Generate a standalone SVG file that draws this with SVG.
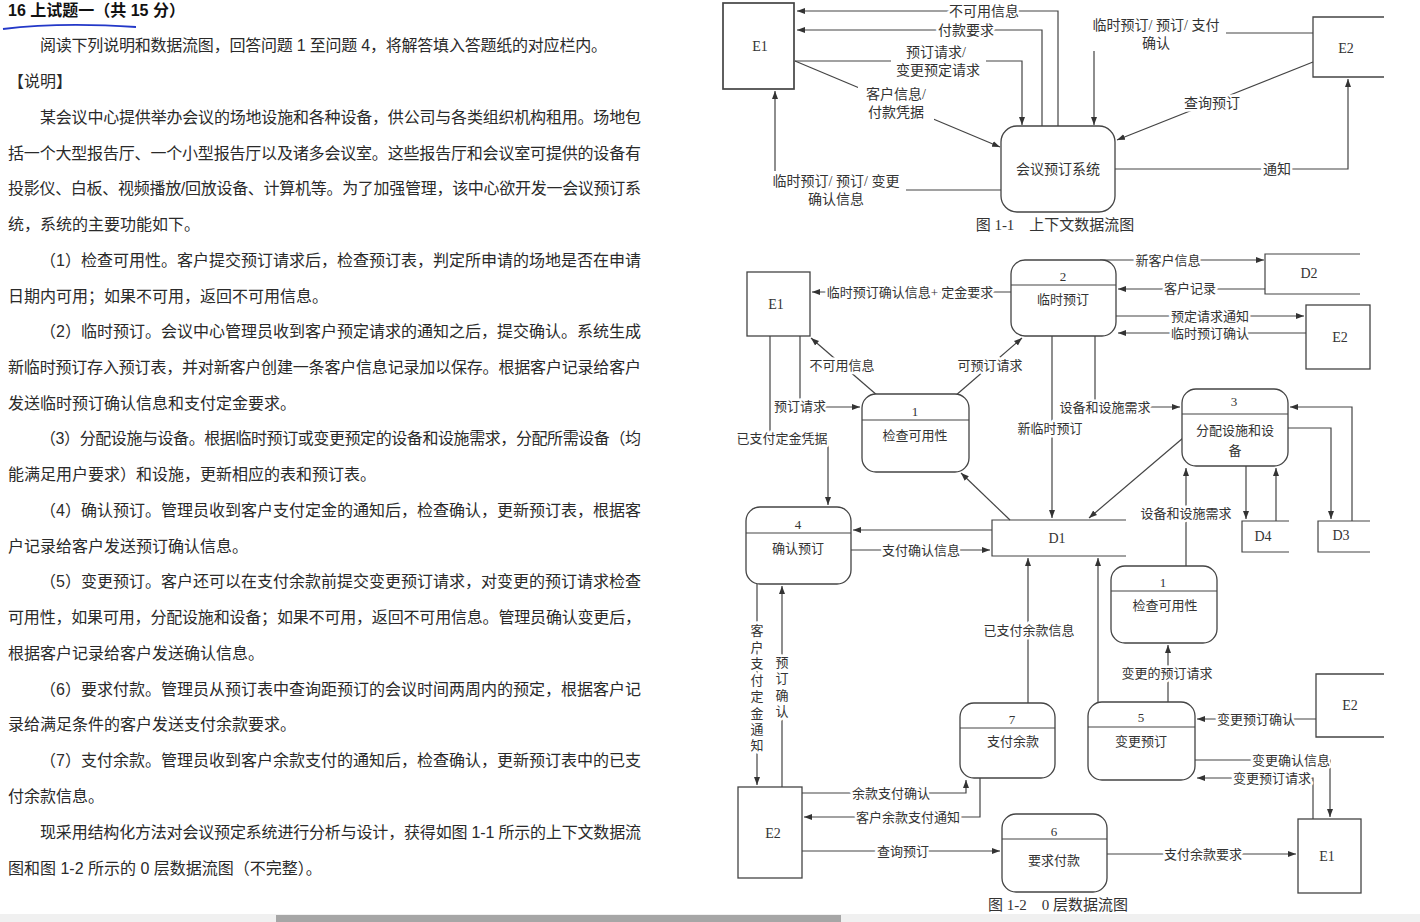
<svg xmlns="http://www.w3.org/2000/svg" width="1420" height="922" viewBox="0 0 1420 922">
<style>
.p{font-family:"Liberation Sans","Noto Sans CJK SC",sans-serif;font-size:16px;fill:#2a2a2a}
.ttl{font-family:"Liberation Sans","Noto Sans CJK SC",sans-serif;font-size:16px;font-weight:bold;fill:#111}
.l{font-family:"Liberation Serif","Noto Sans CJK SC",serif;font-size:13px;fill:#333;text-anchor:middle}
.l1{font-family:"Liberation Serif","Noto Sans CJK SC",serif;font-size:14px;fill:#333;text-anchor:middle}
.h{stroke:#fff;stroke-width:5px;paint-order:stroke;stroke-linejoin:round}
.nm{font-family:"Liberation Serif","Noto Sans CJK SC",serif;font-size:14px;fill:#333;text-anchor:middle}
.box{fill:#fff;stroke:#444;stroke-width:1.3}
.ln{fill:none;stroke:#444;stroke-width:1.2}
.f{fill:none;stroke:#444;stroke-width:1.2;marker-end:url(#a)}
.cap{font-family:"Liberation Serif","Noto Sans CJK SC",serif;font-size:15px;fill:#333;text-anchor:middle}
</style>
<defs>
<marker id="a" markerWidth="9" markerHeight="7" refX="8" refY="3.5" orient="auto" markerUnits="userSpaceOnUse">
<path d="M0,0.5 L8,3.5 L0,6.5 z" fill="#333"/>
</marker>
</defs>
<rect width="1420" height="922" fill="#fff"/>

<g id="text">
<text class="ttl" x="8" y="16">16 上试题一（共 15 分）</text>
<path d="M3,29 Q60,22 136,27" fill="none" stroke="#2338c8" stroke-width="1.8"/>
<text class="p" x="40" y="51" textLength="567" lengthAdjust="spacing">阅读下列说明和数据流图，回答问题 1 至问题 4，将解答填入答题纸的对应栏内。</text>
<text class="p" x="8" y="87">【说明】</text>
<text class="p" x="40" y="123" textLength="601" lengthAdjust="spacing">某会议中心提供举办会议的场地设施和各种设备，供公司与各类组织机构租用。场地包</text>
<text class="p" x="8" y="159" textLength="633" lengthAdjust="spacing">括一个大型报告厅、一个小型报告厅以及诸多会议室。这些报告厅和会议室可提供的设备有</text>
<text class="p" x="8" y="194" textLength="633" lengthAdjust="spacing">投影仪、白板、视频播放/回放设备、计算机等。为了加强管理，该中心欲开发一会议预订系</text>
<text class="p" x="8" y="230">统，系统的主要功能如下。</text>
<text class="p" x="40" y="266" textLength="601" lengthAdjust="spacing">（1）检查可用性。客户提交预订请求后，检查预订表，判定所申请的场地是否在申请</text>
<text class="p" x="8" y="302">日期内可用；如果不可用，返回不可用信息。</text>
<text class="p" x="40" y="337" textLength="601" lengthAdjust="spacing">（2）临时预订。会议中心管理员收到客户预定请求的通知之后，提交确认。系统生成</text>
<text class="p" x="8" y="373" textLength="633" lengthAdjust="spacing">新临时预订存入预订表，并对新客户创建一条客户信息记录加以保存。根据客户记录给客户</text>
<text class="p" x="8" y="409">发送临时预订确认信息和支付定金要求。</text>
<text class="p" x="40" y="444" textLength="601" lengthAdjust="spacing">（3）分配设施与设备。根据临时预订或变更预定的设备和设施需求，分配所需设备（均</text>
<text class="p" x="8" y="480">能满足用户要求）和设施，更新相应的表和预订表。</text>
<text class="p" x="40" y="516" textLength="601" lengthAdjust="spacing">（4）确认预订。管理员收到客户支付定金的通知后，检查确认，更新预订表，根据客</text>
<text class="p" x="8" y="552">户记录给客户发送预订确认信息。</text>
<text class="p" x="40" y="587" textLength="601" lengthAdjust="spacing">（5）变更预订。客户还可以在支付余款前提交变更预订请求，对变更的预订请求检查</text>
<text class="p" x="8" y="623" textLength="633" lengthAdjust="spacing">可用性，如果可用，分配设施和设备；如果不可用，返回不可用信息。管理员确认变更后，</text>
<text class="p" x="8" y="659">根据客户记录给客户发送确认信息。</text>
<text class="p" x="40" y="695" textLength="601" lengthAdjust="spacing">（6）要求付款。管理员从预订表中查询距预订的会议时间两周内的预定，根据客户记</text>
<text class="p" x="8" y="730">录给满足条件的客户发送支付余款要求。</text>
<text class="p" x="40" y="766" textLength="601" lengthAdjust="spacing">（7）支付余款。管理员收到客户余款支付的通知后，检查确认，更新预订表中的已支</text>
<text class="p" x="8" y="802">付余款信息。</text>
<text class="p" x="40" y="838" textLength="601" lengthAdjust="spacing">现采用结构化方法对会议预定系统进行分析与设计，获得如图 1-1 所示的上下文数据流</text>
<text class="p" x="8" y="874">图和图 1-2 所示的 0 层数据流图（不完整）。</text>
</g>

<!-- Figure 1-1 -->
<g id="fig11-connectors">
<path class="f" d="M1058,126 V11 H797"/>
<path class="f" d="M1042,126 V30 H797"/>
<path class="f" d="M795,61 H1022 V125"/>
<path class="f" d="M795,61 L1000,147"/>
<path class="f" d="M1001,190 H775 V91"/>
<path class="f" d="M1313,33 H1094 V125"/>
<path class="f" d="M1313,62 L1117,140"/>
<path class="f" d="M1115,169 H1348 V79"/>
<rect x="891" y="43" width="95" height="36" fill="#fff"/>
<rect x="858" y="86" width="76" height="35" fill="#fff"/>
<rect x="766" y="171" width="140" height="37" fill="#fff"/>
<rect x="1086" y="15" width="140" height="36" fill="#fff"/>
<text class="l1 h" x="984" y="16">不可用信息</text>
<text class="l1 h" x="966" y="35">付款要求</text>
<text class="l1" x="936" y="57">预订请求/</text>
<text class="l1" x="938" y="75">变更预定请求</text>
<text class="l1" x="896" y="99">客户信息/</text>
<text class="l1" x="896" y="117">付款凭据</text>
<text class="l1" x="836" y="186">临时预订/ 预订/ 变更</text>
<text class="l1" x="836" y="204">确认信息</text>
<text class="l1" x="1156" y="30">临时预订/ 预订/ 支付</text>
<text class="l1" x="1156" y="48">确认</text>
<text class="l1 h" x="1212" y="108">查询预订</text>
<text class="l1 h" x="1277" y="174">通知</text>
</g>
<g id="f11-E1">
<rect class="box" x="723" y="3" width="71" height="86" style="stroke-width:1.7"/>
<text class="nm" x="760" y="51">E1</text>
</g>
<g id="f11-E2">
<path class="ln" d="M1384,17 H1313 V77 H1384" style="stroke-width:1.3"/>
<text class="nm" x="1346" y="53">E2</text>
</g>
<g id="f11-P">
<rect class="box" x="1001" y="126" width="114" height="86" rx="16"/>
<text class="l1" x="1058" y="174">会议预订系统</text>
</g>
<text class="cap" x="1055" y="230">图 1-1　上下文数据流图</text>

<!-- Figure 1-2 -->
<g id="fig12-connectors">
<path class="f" d="M1011,292 H812"/>
<path class="f" d="M1100,260 H1264"/>
<path class="f" d="M1265,289 H1118"/>
<path class="f" d="M1116,316 H1304"/>
<path class="f" d="M1306,333 H1118"/>
<path class="f" d="M878,396 L811,338"/>
<path class="f" d="M955,396 L1022,338"/>
<path class="f" d="M800,336 V407 H860"/>
<path class="f" d="M770,336 V438 H828 V505"/>
<path class="f" d="M1052,336 V518"/>
<path class="f" d="M1095,336 V407 H1180"/>
<path class="f" d="M1183,438 L1089,518"/>
<path class="f" d="M1010,520 L961,473"/>
<path class="f" d="M992,530 H853"/>
<path class="f" d="M851,550 H990"/>
<path class="f" d="M1246,466 V519"/>
<path class="f" d="M1276,521 V468"/>
<path class="f" d="M1288,428 H1331 V519"/>
<path class="f" d="M1352,521 V407 H1290"/>
<path class="f" d="M1186,566 V468"/>
<path class="f" d="M1028,703 V558"/>
<path class="f" d="M1098,702 V558"/>
<path class="f" d="M1168,702 V645"/>
<path class="f" d="M1316,719 H1197"/>
<path class="f" d="M1195,760 H1330 V817"/>
<path class="f" d="M1313,819 V778 H1197"/>
<path class="f" d="M1107,854 H1296"/>
<path class="f" d="M802,851 H1000"/>
<path class="f" d="M802,793 H966 V780"/>
<path class="f" d="M980,778 V817 H804"/>
<path class="f" d="M757,584 V785"/>
<path class="f" d="M782,787 V586"/>
<text class="l h" x="910" y="297">临时预订确认信息+ 定金要求</text>
<text class="l h" x="1168" y="265">新客户信息</text>
<text class="l h" x="1190" y="293">客户记录</text>
<text class="l h" x="1210" y="321">预定请求通知</text>
<text class="l h" x="1210" y="338">临时预订确认</text>
<text class="l h" x="842" y="370">不可用信息</text>
<text class="l h" x="990" y="370">可预订请求</text>
<text class="l h" x="800" y="411">预订请求</text>
<text class="l h" x="782" y="443">已支付定金凭据</text>
<text class="l h" x="1050" y="433">新临时预订</text>
<text class="l h" x="1105" y="412">设备和设施需求</text>
<text class="l h" x="921" y="555">支付确认信息</text>
<text class="l h" x="1186" y="518">设备和设施需求</text>
<text class="l h" x="1029" y="635">已支付余款信息</text>
<text class="l h" x="1167" y="678">变更的预订请求</text>
<text class="l h" x="1256" y="724">变更预订确认</text>
<text class="l h" x="1291" y="765">变更确认信息</text>
<text class="l h" x="1272" y="783">变更预订请求</text>
<text class="l h" x="1203" y="859">支付余款要求</text>
<text class="l h" x="903" y="856">查询预订</text>
<text class="l h" x="891" y="798">余款支付确认</text>
<text class="l h" x="908" y="822">客户余款支付通知</text>
<text class="l h" x="757"><tspan x="757" y="635">客</tspan><tspan x="757" y="652">户</tspan><tspan x="757" y="668">支</tspan><tspan x="757" y="685">付</tspan><tspan x="757" y="701">定</tspan><tspan x="757" y="718">金</tspan><tspan x="757" y="734">通</tspan><tspan x="757" y="750">知</tspan></text>
<text class="l h" x="782"><tspan x="782" y="667">预</tspan><tspan x="782" y="683">订</tspan><tspan x="782" y="700">确</tspan><tspan x="782" y="716">认</tspan></text>
</g>

<g id="f12-E1a">
<rect class="box" x="747" y="272" width="63" height="64"/>
<text class="nm" x="776" y="309">E1</text>
</g>
<g id="f12-P2">
<rect class="box" x="1011" y="260" width="105" height="76" rx="14"/>
<line class="ln" x1="1011" y1="285" x2="1116" y2="285"/>
<text class="l" x="1063" y="281">2</text>
<text class="l" x="1063" y="304">临时预订</text>
</g>
<g id="f12-D2">
<path class="ln" d="M1360,254 H1265 V294 H1360"/>
<text class="nm" x="1309" y="278">D2</text>
</g>
<g id="f12-E2a">
<rect class="box" x="1306" y="305" width="64" height="64"/>
<text class="nm" x="1340" y="342">E2</text>
</g>
<g id="f12-P1a">
<rect class="box" x="862" y="394" width="107" height="78" rx="14"/>
<line class="ln" x1="862" y1="420" x2="969" y2="420"/>
<text class="l" x="915" y="416">1</text>
<text class="l" x="915" y="440">检查可用性</text>
</g>
<g id="f12-P3">
<rect class="box" x="1182" y="389" width="106" height="77" rx="14"/>
<line class="ln" x1="1182" y1="414" x2="1288" y2="414"/>
<text class="l" x="1234" y="406">3</text>
<text class="l" x="1235" y="435">分配设施和设</text>
<text class="l" x="1235" y="455">备</text>
</g>
<g id="f12-D1">
<path class="ln" d="M1126,520 H992 V556 H1126"/>
<text class="nm" x="1057" y="543">D1</text>
</g>
<g id="f12-D4">
<path class="ln" d="M1289,521 H1242 V552 H1289"/>
<text class="nm" x="1263" y="541">D4</text>
</g>
<g id="f12-D3">
<path class="ln" d="M1370,521 H1318 V552 H1370"/>
<text class="nm" x="1341" y="540">D3</text>
</g>
<g id="f12-P4">
<rect class="box" x="746" y="507" width="105" height="77" rx="14"/>
<line class="ln" x1="746" y1="533" x2="851" y2="533"/>
<text class="l" x="798" y="529">4</text>
<text class="l" x="798" y="553">确认预订</text>
</g>
<g id="f12-P1b">
<rect class="box" x="1111" y="566" width="106" height="77" rx="14"/>
<line class="ln" x1="1111" y1="591" x2="1217" y2="591"/>
<text class="l" x="1163" y="587">1</text>
<text class="l" x="1165" y="610">检查可用性</text>
</g>
<g id="f12-E2b">
<path class="ln" d="M1384,674 H1316 V737 H1384" style="stroke-width:1.3"/>
<text class="nm" x="1350" y="710">E2</text>
</g>
<g id="f12-P7">
<rect class="box" x="960" y="703" width="95" height="75" rx="14"/>
<line class="ln" x1="960" y1="728" x2="1055" y2="728"/>
<text class="l" x="1012" y="724">7</text>
<text class="l" x="1013" y="746">支付余款</text>
</g>
<g id="f12-P5">
<rect class="box" x="1088" y="702" width="107" height="78" rx="14"/>
<line class="ln" x1="1088" y1="727" x2="1195" y2="727"/>
<text class="l" x="1141" y="722">5</text>
<text class="l" x="1141" y="746">变更预订</text>
</g>
<g id="f12-E2c">
<rect class="box" x="738" y="787" width="64" height="91"/>
<text class="nm" x="773" y="838">E2</text>
</g>
<g id="f12-P6">
<rect class="box" x="1002" y="814" width="105" height="78" rx="14"/>
<line class="ln" x1="1002" y1="839" x2="1107" y2="839"/>
<text class="l" x="1054" y="836">6</text>
<text class="l" x="1054" y="865">要求付款</text>
</g>
<g id="f12-E1b">
<rect class="box" x="1298" y="819" width="63" height="74"/>
<text class="nm" x="1327" y="861">E1</text>
</g>
<text class="cap" x="1058" y="910">图 1-2　0 层数据流图</text>

<g id="scrollbar">
<rect x="0" y="914" width="1420" height="8" fill="#f0f0f0"/>
<rect x="276" y="915" width="565" height="7" fill="#a6a6a6"/>
</g>
</svg>
